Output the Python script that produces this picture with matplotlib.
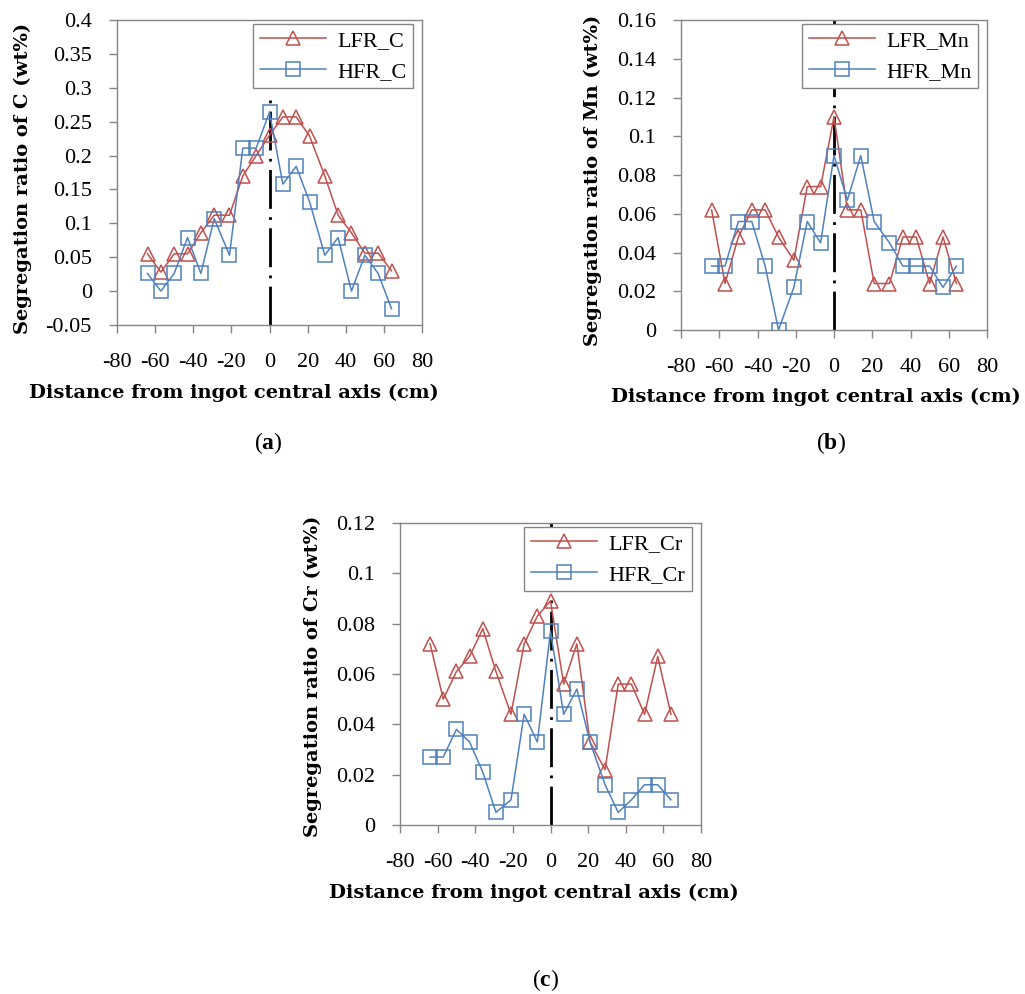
import matplotlib
matplotlib.use('Agg')
import matplotlib.pyplot as plt

plt.rcParams['font.family'] = ['Liberation Serif', 'DejaVu Serif']
plt.rcParams['mathtext.fontset'] = 'custom'
plt.rcParams['mathtext.rm'] = 'Liberation Serif'
plt.rcParams['mathtext.bf'] = 'Liberation Serif:bold'

# distance from ingot central axis (cm)
distance = [-64, -57, -50, -43, -36, -29, -21, -14, -7, 0, 7, 14, 21, 29, 36, 43, 50, 57, 64]

lfr_c = [0.055, 0.028, 0.055, 0.055, 0.086, 0.112, 0.112, 0.170, 0.200, 0.230,
         0.257, 0.257, 0.229, 0.170, 0.112, 0.086, 0.056, 0.056, 0.030]
hfr_c = [0.026, 0.000, 0.026, 0.079, 0.026, 0.107, 0.053, 0.211, 0.211, 0.264,
         0.158, 0.184, 0.132, 0.053, 0.079, 0.000, 0.053, 0.026, -0.026]

lfr_mn = [0.062, 0.024, 0.048, 0.062, 0.062, 0.048, 0.036, 0.074, 0.074, 0.110,
          0.062, 0.062, 0.024, 0.024, 0.048, 0.048, 0.024, 0.048, 0.024]
hfr_mn = [0.033, 0.033, 0.056, 0.056, 0.033, 0.000, 0.022, 0.056, 0.045, 0.090,
          0.067, 0.090, 0.056, 0.045, 0.033, 0.033, 0.033, 0.022, 0.033]

lfr_cr = [0.072, 0.050, 0.061, 0.067, 0.078, 0.061, 0.044, 0.072, 0.083, 0.089,
          0.056, 0.072, 0.033, 0.022, 0.056, 0.056, 0.044, 0.067, 0.044]
hfr_cr = [0.027, 0.027, 0.038, 0.033, 0.021, 0.005, 0.010, 0.044, 0.033, 0.077,
          0.044, 0.054, 0.033, 0.016, 0.005, 0.010, 0.016, 0.016, 0.010]

x_ticks = [-80, -60, -40, -20, 0, 20, 40, 60, 80]

RED = '#C0504D'
BLUE = '#4F81BD'
GRAY = '#868686'

W, H = 1025, 994
fig = plt.figure(figsize=(W / 100, H / 100), dpi=100)


def px_axes(left, top, right, bottom):
    return fig.add_axes([left / W, 1 - bottom / H, (right - left) / W, (bottom - top) / H])


def panel(ax, lfr, hfr, elem, ylim, yticks, ylabels, center_top, legend_box):
    ax.plot(distance, lfr, color=RED, lw=1.1, marker='^', ms=10.5, mfc='none', mec=RED,
            mew=1.1, label=f'LFR_{elem}', zorder=3)
    ax.plot(distance, hfr, color=BLUE, lw=1.1, marker='s', ms=9.5, mfc='none', mec=BLUE,
            mew=1.1, label=f'HFR_{elem}', zorder=3)
    ax.plot([0, 0], [ylim[0], center_top], color='black', lw=2.0,
            linestyle=(0, (14, 3, 1, 3)), zorder=2)
    ax.set_xlim(-80, 80)
    ax.set_ylim(*ylim)
    ax.set_xticks(x_ticks)
    ax.set_xticklabels([str(v) for v in x_ticks])
    ax.set_yticks(yticks)
    ax.set_yticklabels(ylabels)
    for s in ax.spines.values():
        s.set_color(GRAY)
        s.set_linewidth(1.0)
    ax.tick_params(axis='both', direction='out', length=6, width=1.0, color=GRAY,
                   labelsize=16, top=False, right=False)
    ax.tick_params(axis='x', pad=14)
    ax.tick_params(axis='y', pad=12)
    leg = ax.legend(loc='upper left', bbox_to_anchor=legend_box, fontsize=16,
                    frameon=True, fancybox=False, edgecolor=GRAY, framealpha=1,
                    handlelength=3.0, borderpad=0.3, labelspacing=0.45, handletextpad=0.5,
                    borderaxespad=0)
    leg.get_frame().set_linewidth(1.0)
    leg.set_zorder(5)


# (a) carbon
ax_a = px_axes(117, 20, 422, 325)
panel(ax_a, lfr_c, hfr_c, 'C', (-0.05, 0.4),
      [-0.05, 0, 0.05, 0.1, 0.15, 0.2, 0.25, 0.3, 0.35, 0.4],
      ['-0.05', '0', '0.05', '0.1', '0.15', '0.2', '0.25', '0.3', '0.35', '0.4'],
      0.285, ((253 - 117) / 305, (325 - 24) / 305))

# (b) manganese
ax_b = px_axes(681, 20, 987, 330)
panel(ax_b, lfr_mn, hfr_mn, 'Mn', (0, 0.16),
      [0, 0.02, 0.04, 0.06, 0.08, 0.1, 0.12, 0.14, 0.16],
      ['0', '0.02', '0.04', '0.06', '0.08', '0.1', '0.12', '0.14', '0.16'],
      0.16, ((802 - 681) / 306, (330 - 24) / 310))

# (c) chromium
ax_c = px_axes(400, 523, 701, 825)
panel(ax_c, lfr_cr, hfr_cr, 'Cr', (0, 0.12),
      [0, 0.02, 0.04, 0.06, 0.08, 0.1, 0.12],
      ['0', '0.02', '0.04', '0.06', '0.08', '0.1', '0.12'],
      0.12, ((524 - 400) / 301, (825 - 527) / 302))

label_kw = dict(fontsize=14, fontweight='bold', ha='center', va='center',
                family=['DejaVu Serif'])
fig.text(23 / W, 1 - 178 / H, 'Segregation ratio of C (wt%)', rotation=90, **label_kw)
fig.text(593 / W, 1 - 180 / H, 'Segregation ratio of Mn (wt%)', rotation=90, **label_kw)
fig.text(313 / W, 1 - 676 / H, 'Segregation ratio of Cr (wt%)', rotation=90, **label_kw)

fig.text(234 / W, 1 - 393 / H, 'Distance from ingot central axis (cm)', **label_kw)
fig.text(816 / W, 1 - 397 / H, 'Distance from ingot central axis (cm)', **label_kw)
fig.text(534 / W, 1 - 893 / H, 'Distance from ingot central axis (cm)', **label_kw)

for lbl, cx, cy in [('a', 268, 443), ('b', 831, 443), ('c', 546, 980)]:
    fig.text(cx / W, 1 - cy / H, '(' + r'$\mathbf{' + lbl + '}$' + ')', fontsize=17,
             ha='center', va='center')

fig.savefig('out.png', dpi=100)
